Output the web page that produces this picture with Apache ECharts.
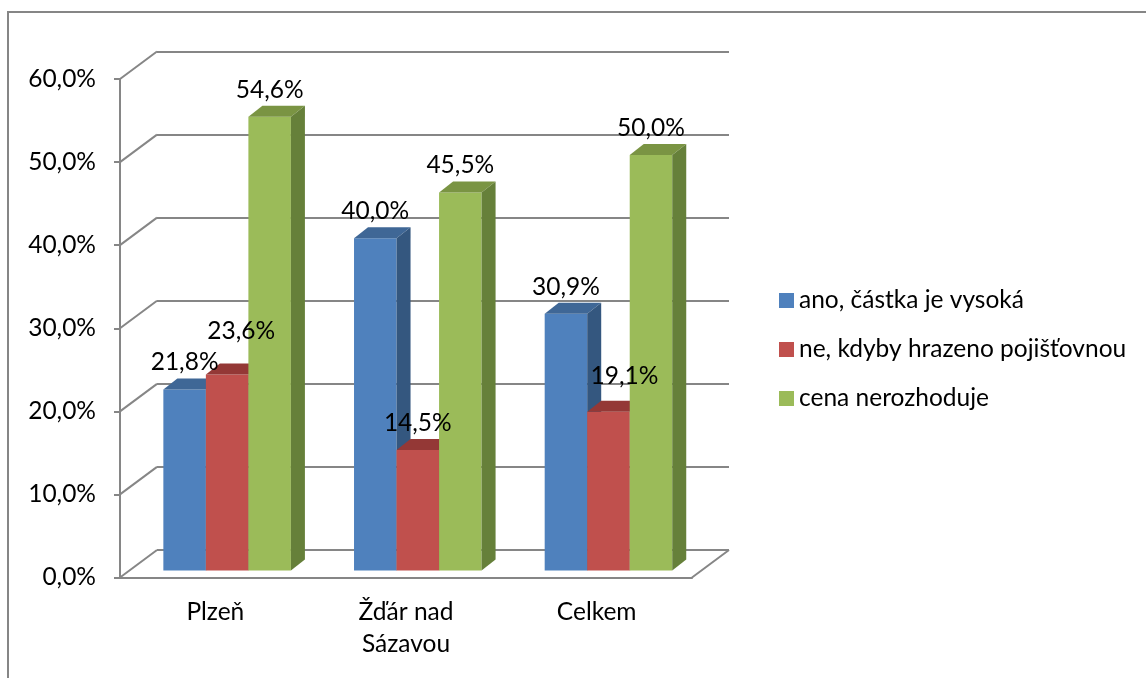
<!DOCTYPE html>
<html>
<head>
<meta charset="utf-8">
<title>Ochota platit</title>
<script src="https://cdn.jsdelivr.net/npm/echarts@6/dist/echarts.min.js"></script>
<style>
  html, body { margin: 0; padding: 0; background: #fff; }
  #chart { width: 1146px; height: 678px; }
</style>
</head>
<body>
<div id="chart"></div>
<script>
// data (percent)
const categories = ['Plzeň', 'Žďár nad\nSázavou', 'Celkem'];
const seriesNames = ['ano, částka je vysoká', 'ne, kdyby hrazeno pojišťovnou', 'cena nerozhoduje'];
const anoVysoka = [21.8, 40.0, 30.9];
const neHrazeno = [23.6, 14.5, 19.1];
const cenaNerozhoduje = [54.6, 45.5, 50.0];
const yTicks = [0, 10, 20, 30, 40, 50, 60];

// 3D look: depth of the walls and of the bars
const WALL_DX = 37, WALL_DY = -27.5;
const FRONT_DX = 11.8, FRONT_DY = -7;
const SIDE_DX = 14, SIDE_DY = -11;
const BAR_RATIO = 0.223;
const GRID_COLOR = '#868686';
const FONT = 'Lato, "Liberation Sans", sans-serif';
const FONT_SIZE = 24.5;

const faces = [
  { front: '#4F81BD', top: '#3F6796', side: '#34577F' },
  { front: '#C0504D', top: '#943836', side: '#853230' },
  { front: '#9BBB59', top: '#7A9443', side: '#66803A' }
];
// hand-moved labels in the original (series-category)
const labelNudge = { '1-0': [14, -16], '1-2': [16, -9] };

const fmt = v => v.toFixed(1).replace('.', ',') + '%';

function wallRender(params, api) {
  const y = api.coord([0, api.value(0)])[1];
  const x0 = params.coordSys.x;
  const children = [{
    type: 'line',
    shape: { x1: x0, y1: y, x2: x0 + WALL_DX, y2: y + WALL_DY },
    style: { stroke: GRID_COLOR, lineWidth: 2 }
  }];
  if (api.value(0) === 0) {
    const x1 = x0 + params.coordSys.width;
    children.push({
      type: 'line',
      shape: { x1: x1, y1: y, x2: x1 + WALL_DX, y2: y + WALL_DY },
      style: { stroke: GRID_COLOR, lineWidth: 2 }
    });
  }
  return { type: 'group', children: children };
}

// front face position of bar si in its category
function barBox(si, api) {
  const cat = api.value(0);
  const val = api.value(1);
  const base = api.coord([cat, 0]);
  const top = api.coord([cat, val]);
  const bw = api.size([1, 0])[0] * BAR_RATIO;
  return {
    cat: cat,
    val: val,
    bw: bw,
    x: base[0] + FRONT_DX - 1.5 * bw + si * bw,
    yb: base[1] + FRONT_DY,
    yt: top[1] + FRONT_DY
  };
}

function barRender(si) {
  const c = faces[si];
  return function (params, api) {
    const b = barBox(si, api);
    const x = b.x, bw = b.bw, yt = b.yt, yb = b.yb;
    return {
      type: 'group',
      children: [
        {
          type: 'rect',
          shape: { x: x, y: yt, width: bw, height: yb - yt },
          style: { fill: c.front }
        },
        {
          type: 'polygon',
          shape: { points: [[x, yt], [x + SIDE_DX, yt + SIDE_DY], [x + bw + SIDE_DX, yt + SIDE_DY], [x + bw, yt]] },
          style: { fill: c.top }
        },
        {
          type: 'polygon',
          shape: { points: [[x + bw, yt], [x + bw + SIDE_DX, yt + SIDE_DY], [x + bw + SIDE_DX, yb + SIDE_DY], [x + bw, yb]] },
          style: { fill: c.side }
        }
      ]
    };
  };
}

function labelRender(si) {
  return function (params, api) {
    const b = barBox(si, api);
    const nudge = labelNudge[si + '-' + b.cat] || [0, 0];
    return {
      type: 'text',
      style: {
        text: fmt(b.val),
        x: b.x + b.bw / 2 + nudge[0],
        y: b.yt - 27 + nudge[1],
        align: 'center',
        verticalAlign: 'middle',
        font: FONT_SIZE + 'px ' + FONT,
        fill: '#000'
      }
    };
  };
}

const values = [anoVysoka, neHrazeno, cenaNerozhoduje];

const chart = echarts.init(document.getElementById('chart'));
chart.setOption({
  animation: false,
  color: faces.map(f => f.front),
  textStyle: { fontFamily: FONT },
  graphic: [{
    type: 'rect',
    shape: { x: 8, y: 12, width: 1300, height: 800 },
    style: { fill: 'none', stroke: GRID_COLOR, lineWidth: 2 },
    silent: true
  }],
  legend: {
    orient: 'vertical',
    left: 779,
    top: 288,
    padding: 0,
    itemWidth: 15,
    itemHeight: 15,
    itemGap: 24,
    icon: 'rect',
    selectedMode: false,
    data: seriesNames,
    textStyle: { fontFamily: FONT, fontSize: FONT_SIZE, lineHeight: 24.5, color: '#000' }
  },
  grid: [
    { left: 120, width: 572, top: 79, bottom: 100.5 },
    { left: 120 + WALL_DX, width: 572, top: 79 + WALL_DY, bottom: 100.5 - WALL_DY }
  ],
  xAxis: [
    {
      gridIndex: 0,
      type: 'category',
      data: categories,
      axisLine: { lineStyle: { color: GRID_COLOR, width: 2 } },
      axisTick: { length: 7, lineStyle: { color: GRID_COLOR, width: 2 } },
      axisLabel: { color: '#000', fontFamily: FONT, fontSize: FONT_SIZE, lineHeight: 32, margin: 19 }
    },
    { gridIndex: 1, type: 'value', min: 0, max: 1, show: false }
  ],
  yAxis: [
    {
      gridIndex: 0,
      type: 'value',
      min: 0,
      max: 60,
      interval: 10,
      splitLine: { show: false },
      axisLine: { show: true, lineStyle: { color: GRID_COLOR, width: 2 } },
      axisTick: { show: true, length: 6, lineStyle: { color: GRID_COLOR, width: 2 } },
      axisLabel: { color: '#000', fontFamily: FONT, fontSize: FONT_SIZE, margin: 24, formatter: fmt }
    },
    {
      gridIndex: 1,
      type: 'value',
      min: 0,
      max: 60,
      interval: 10,
      axisLine: { show: false },
      axisTick: { show: false },
      axisLabel: { show: false },
      splitLine: { show: true, lineStyle: { color: GRID_COLOR, width: 2 } }
    }
  ],
  series: [
    {
      type: 'custom',
      name: 'walls',
      xAxisIndex: 0,
      yAxisIndex: 0,
      silent: true,
      renderItem: wallRender,
      data: yTicks.map(t => [t]),
      encode: { y: 0 }
    }
  ].concat(values.map((vals, si) => ({
    type: 'custom',
    name: seriesNames[si],
    xAxisIndex: 0,
    yAxisIndex: 0,
    z: 2,
    itemStyle: { color: faces[si].front },
    renderItem: barRender(si),
    data: vals.map((v, i) => [i, v]),
    encode: { x: 0, y: 1 }
  }))).concat(values.map((vals, si) => ({
    type: 'custom',
    name: 'labels' + si,
    xAxisIndex: 0,
    yAxisIndex: 0,
    z: 5,
    silent: true,
    renderItem: labelRender(si),
    data: vals.map((v, i) => [i, v]),
    encode: { x: 0, y: 1 }
  })))
});
</script>
</body>
</html>
